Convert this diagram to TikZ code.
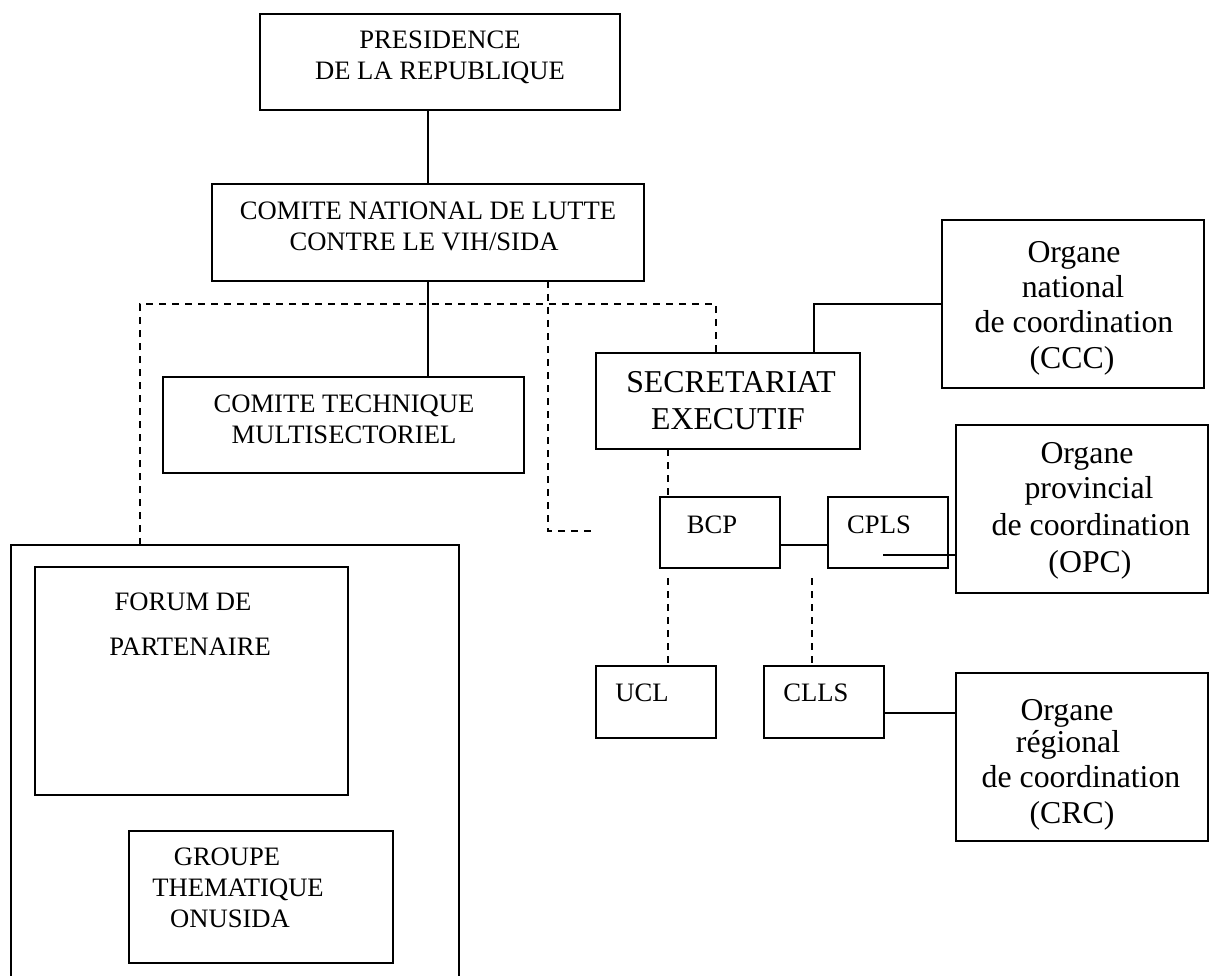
\documentclass[tikz,border=0pt]{standalone}
\usepackage{fontspec}
\setmainfont{Liberation Serif}
\usetikzlibrary{fit}
\begin{document}
\begin{tikzpicture}[x=1pt,y=-1pt,
  box/.style={draw,line width=2pt,inner sep=0pt,outer sep=0pt},
  conn/.style={line width=2pt},
  dsh/.style={line width=2pt,dash pattern=on 7pt off 6pt},
  sm/.style={anchor=base,inner sep=0pt,font=\fontsize{26.6}{31}\selectfont},
  bg/.style={anchor=base,inner sep=0pt,font=\fontsize{31.8}{36}\selectfont}]
\useasboundingbox (0,0) rectangle (1210,976);
\fill[white] (0,0) rectangle (1210,976);
% boxes
\node[box,fit={(260,14) (620,110)}] (pres) {};
\node[box,fit={(212,184) (644,281)}] (cnls) {};
\node[box,fit={(163,377) (524,473)}] (ctm) {};
\node[box,fit={(596,353) (860,449)}] (sec) {};
\node[box,fit={(942,220) (1204,388)}] (ccc) {};
\node[box,fit={(956,425) (1208,593)}] (opc) {};
\node[box,fit={(660,497) (780,568)}] (bcp) {};
\node[box,fit={(828,497) (948,568)}] (cpls) {};
\node[box,fit={(596,666) (716,738)}] (ucl) {};
\node[box,fit={(764,666) (884,738)}] (clls) {};
\node[box,fit={(956,673) (1208,841)}] (crc) {};
\node[box,fit={(11,545) (459,992)}] (big) {};
\node[box,fit={(35,567) (348,795)}] (forum) {};
\node[box,fit={(129,831) (393,963)}] (groupe) {};
% texts
\node[sm] (t1) at (440,49) {PRESIDENCE};
\node[sm] (t2) at (440,80) {DE LA REPUBLIQUE};
\node[sm] (t3) at (428,220) {COMITE NATIONAL DE LUTTE};
\node[sm] (t4) at (424,251) {CONTRE LE VIH/SIDA};
\node[sm] (t5) at (344,412) {COMITE TECHNIQUE};
\node[sm] (t6) at (344,443) {MULTISECTORIEL};
\node[bg] (t7) at (731,392) {SECRETARIAT};
\node[bg] (t8) at (728,429) {EXECUTIF};
\node[bg] (t9) at (1074,263) {Organe};
\node[bg] (t10) at (1073,298) {national};
\node[bg] (t11) at (1074,333) {de coordination};
\node[bg] (t12) at (1072,368) {(CCC)};
\node[sm] (t13) at (712,533) {BCP};
\node[sm] (t14) at (879,533) {CPLS};
\node[bg] (t15) at (1087,463) {Organe};
\node[bg] (t16) at (1089,498) {provincial};
\node[bg] (t17) at (1091,535) {de coordination};
\node[bg] (t18) at (1090,572) {(OPC)};
\node[sm] (t19) at (642,701) {UCL};
\node[sm] (t20) at (816,701) {CLLS};
\node[bg] (t21) at (1067,720) {Organe};
\node[bg] (t22) at (1068,752) {régional};
\node[bg] (t23) at (1081,787) {de coordination};
\node[bg] (t24) at (1072,823) {(CRC)};
\node[sm] (t25) at (183,610) {FORUM DE};
\node[sm] (t26) at (190,655) {PARTENAIRE};
\node[sm] (t27) at (227,865) {GROUPE};
\node[sm] (t28) at (238,896) {THEMATIQUE};
\node[sm] (t29) at (230,927) {ONUSIDA};
% helper coordinates
\coordinate (d1) at (597,531);
\coordinate (jn) at (716,304);
\coordinate (jc) at (814,305);
\coordinate (vx) at (668,0);
\coordinate (cx) at (812,578);
\coordinate (c1) at (883,555);
\coordinate (b1) at ([yshift=-12.5pt]bcp.east);
\coordinate (l1) at ([yshift=-11pt]clls.east);
% connectors
\draw[conn] (cnls.north |- pres.south) -- (cnls.north);
\draw[conn] (cnls.south) -- (cnls.south |- ctm.north);
\draw[dsh] ([xshift=120pt]cnls.south) |- (d1);
\draw[dsh] ([xshift=-95pt]big.north) |- (jn) -- (jn |- sec.north);
\draw[conn] (jc |- sec.north) |- (ccc.west);
\draw[dsh] (vx |- sec.south) -- (vx |- bcp.north);
\draw[dsh] (vx |- bcp.south) ++(0,10) -- (vx |- ucl.north);
\draw[dsh] (cx) -- (cx |- clls.north);
\draw[conn] (b1) -- (b1 -| cpls.west);
\draw[conn] (c1) -- (c1 -| opc.west);
\draw[conn] (l1) -- (l1 -| crc.west);
\end{tikzpicture}
\end{document}
